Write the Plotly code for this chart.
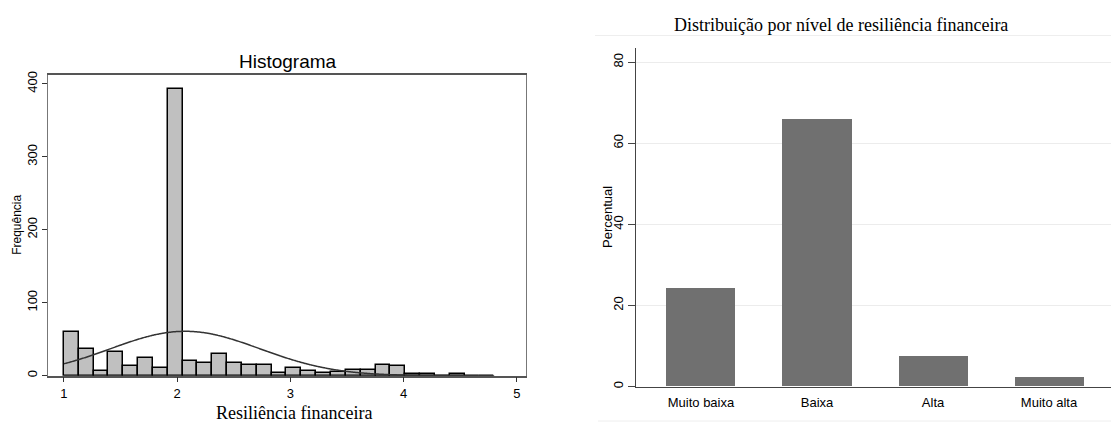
import numpy as np
import plotly.graph_objects as go

# ---------------- data ----------------
# Left: histogram of "Resiliência financeira" (bin counts)
BIN_START = 1.0
BIN_WIDTH = 0.131
hist_counts = [60, 36, 6, 32, 13, 24, 11, 393, 20, 17, 30, 18, 14, 14, 4,
               10, 6, 4, 5, 8, 8, 14, 13, 3, 3, 0, 2, 0, 0]
NORMAL_MEAN = 2.07
NORMAL_SD = 0.66
hist_xticks = [1, 2, 3, 4, 5]
hist_yticks = [0, 100, 200, 300, 400]

# Right: distribution by level
categories = ["Muito baixa", "Baixa", "Alta", "Muito alta"]
percent = [24.1, 66.0, 7.5, 2.3]
bar_yticks = [0, 20, 40, 60, 80]

# ---------------- figure ----------------
W, H = 1111, 425
def px(x):
    return x / W
def py(y):
    return (H - y) / H

centers = [BIN_START + BIN_WIDTH * (i + 0.5) for i in range(len(hist_counts))]
n_total = sum(hist_counts)
data_max = BIN_START + BIN_WIDTH * len(hist_counts)
xc = np.linspace(BIN_START, data_max, 300)
yc = n_total * BIN_WIDTH / (NORMAL_SD * np.sqrt(2 * np.pi)) * np.exp(-0.5 * ((xc - NORMAL_MEAN) / NORMAL_SD) ** 2)

fig = go.Figure()
fig.add_trace(go.Bar(
    x=centers, y=hist_counts, width=BIN_WIDTH,
    marker=dict(color="#c0c0c0", line=dict(color="#000000", width=1.5)),
    xaxis="x", yaxis="y", showlegend=False,
))
fig.add_trace(go.Scatter(
    x=xc, y=yc, mode="lines", line=dict(color="#333333", width=1.5, shape="spline"),
    xaxis="x", yaxis="y", showlegend=False,
))
fig.add_trace(go.Bar(
    x=categories, y=percent, width=0.595,
    marker=dict(color="#707070", line=dict(width=0)),
    xaxis="x2", yaxis="y2", showlegend=False,
))

sans = "Liberation Sans, Arial, sans-serif"
serif = "Liberation Serif, Times New Roman, serif"

def label(text, x, y, family, size, angle=0):
    return dict(text=text, x=px(x), y=py(y), xref="paper", yref="paper",
                xanchor="center", yanchor="middle", showarrow=False, textangle=angle,
                font=dict(family=family, size=size, color="#000"))

fig.update_layout(
    width=W, height=H,
    margin=dict(l=0, r=0, t=0, b=0),
    paper_bgcolor="white", plot_bgcolor="white",
    bargap=0,
    font=dict(family=sans, color="#000000"),
    xaxis=dict(
        domain=[px(48), px(526)], range=[0.859, 5.08],
        tickvals=hist_xticks, ticks="outside", ticklen=5, tickwidth=1, tickcolor="#333",
        tickfont=dict(family=sans, size=13, color="#000"),
        showline=True, linecolor="#555", linewidth=1.5, mirror=True,
        showgrid=False, zeroline=False, anchor="y",
    ),
    yaxis=dict(
        domain=[py(377), py(72)], range=[0, 412],
        tickvals=hist_yticks, ticks="outside", ticklen=5, tickwidth=1, tickcolor="#333",
        tickangle=-90, tickfont=dict(family=sans, size=13, color="#000"),
        showline=True, linecolor="#777", linewidth=1.2, mirror=True,
        showgrid=False, zeroline=False, anchor="x",
    ),
    xaxis2=dict(
        domain=[px(636), 1.0], range=[-0.56, 3.534],
        ticks="", tickfont=dict(family=sans, size=13, color="#000"),
        ticklabelstandoff=4,
        showline=True, linecolor="#444", linewidth=1.2,
        showgrid=False, zeroline=False, anchor="y2",
    ),
    yaxis2=dict(
        domain=[py(388), py(45)], range=[0, 83.4],
        tickvals=bar_yticks, ticks="outside", ticklen=7, tickwidth=1, tickcolor="#444",
        tickangle=-90, tickfont=dict(family=sans, size=13, color="#000"),
        showline=True, linecolor="#444", linewidth=1.2,
        showgrid=True, gridcolor="#ececec", gridwidth=1, zeroline=False, anchor="x2",
    ),
    annotations=[
        label("Histograma", 288, 58, sans, 19),
        label("Frequência", 17, 224, sans, 12, -90),
        label("Resiliência financeira", 294, 415, serif, 18),
        label("Distribuição por nível de resiliência financeira", 841, 21, serif, 18),
        label("Percentual", 608, 216, sans, 13, -90),
    ],
    shapes=[
        dict(type="line", xref="paper", yref="paper", x0=px(595), x1=1.0, y0=py(32), y1=py(32),
             line=dict(color="#eeeeee", width=1)),
        dict(type="line", xref="paper", yref="paper", x0=px(598), x1=1.0, y0=py(423), y1=py(423),
             line=dict(color="#eeeeee", width=1)),
    ],
)

fig.write_html("out.html", config={"displayModeBar": False},
               post_script="document.body.style.margin='0';document.body.style.padding='0';")
